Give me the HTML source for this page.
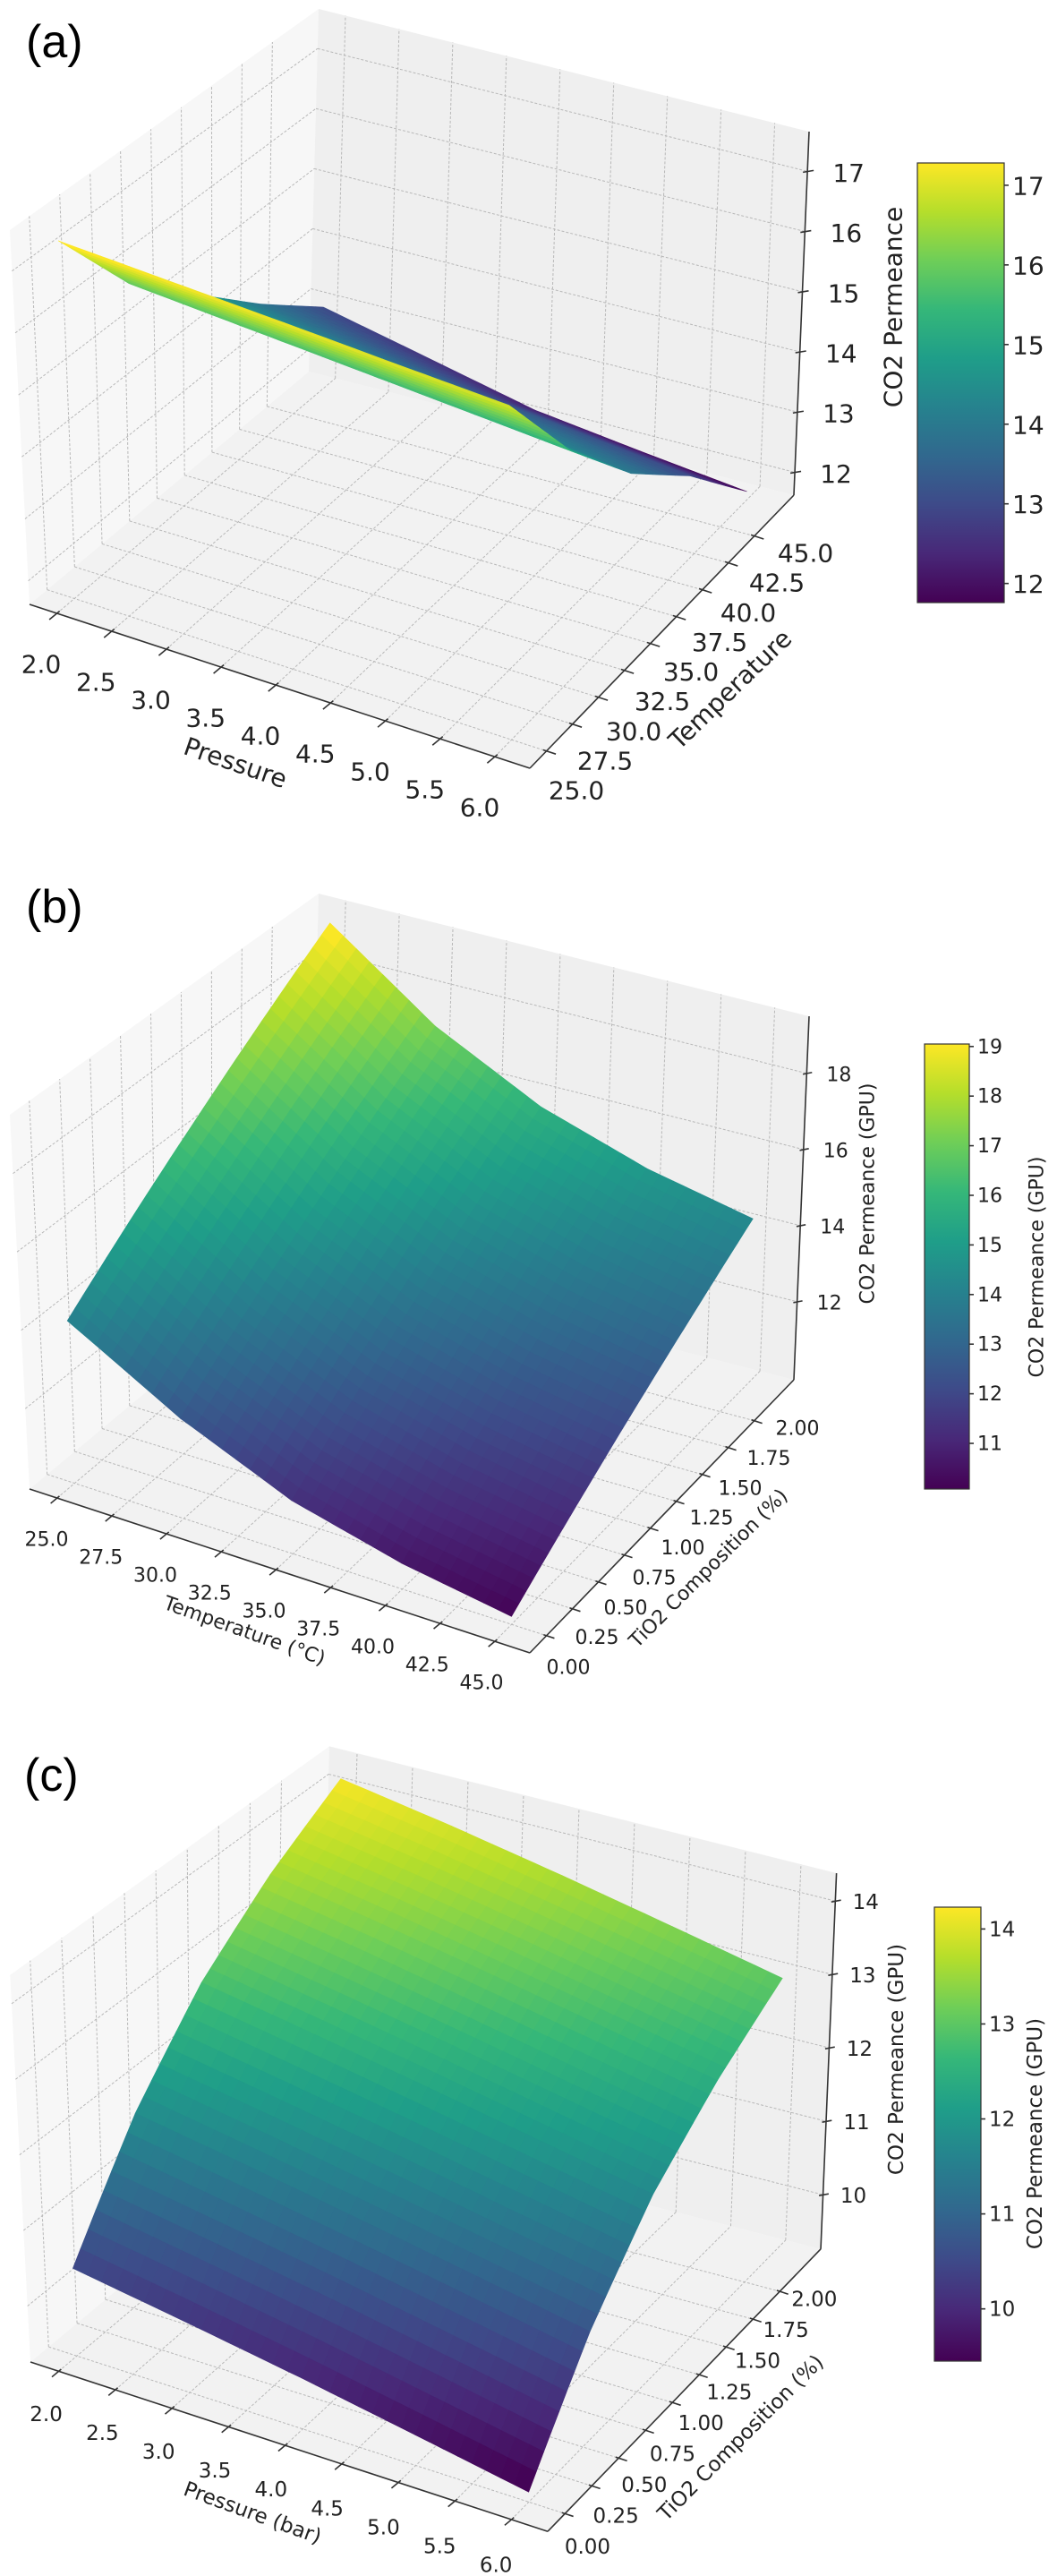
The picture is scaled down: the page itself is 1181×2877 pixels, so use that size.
<!DOCTYPE html>
<html><head><meta charset="utf-8"><title>CO2 Permeance 3D surfaces</title>
<style>html,body{margin:0;padding:0;background:#fff}svg{display:block}</style></head>
<body>
<svg id="fig" xmlns="http://www.w3.org/2000/svg" width="1181" height="2877" viewBox="0 0 1181 2877" font-family="DejaVu Sans, Liberation Sans, sans-serif">
<defs>
<linearGradient id="vir" x1="0" y1="1" x2="0" y2="0">
<stop offset="0" stop-color="#440154"/><stop offset="0.111" stop-color="#482878"/><stop offset="0.222" stop-color="#3e4a89"/><stop offset="0.333" stop-color="#31688e"/><stop offset="0.444" stop-color="#26828e"/><stop offset="0.556" stop-color="#1f9e89"/><stop offset="0.667" stop-color="#35b779"/><stop offset="0.778" stop-color="#6ece58"/><stop offset="0.889" stop-color="#b5de2b"/><stop offset="1" stop-color="#fde725"/>
</linearGradient>
</defs>
<text x="29" y="64" font-family="Liberation Sans, sans-serif" font-size="52">(a)</text>
<text x="29" y="1030" font-family="Liberation Sans, sans-serif" font-size="52">(b)</text>
<text x="27" y="2000" font-family="Liberation Sans, sans-serif" font-size="52">(c)</text>
</svg>
<script>
// ---------- data (estimated) ----------
const pressureA = [2, 3, 4, 5, 6];
const temperatureA = [25, 30, 35, 40, 45];
const permeanceA = [
  [17.40, 17.29, 17.18, 17.06, 16.95],
  [15.90, 15.75, 15.60, 15.45, 15.30],
  [14.90, 14.72, 14.50, 14.25, 14.00],
  [13.90, 13.65, 13.40, 13.20, 13.00],
  [13.00, 12.60, 12.20, 11.97, 11.76]
];
const temperatureB = [25, 30, 35, 40, 45];
const tio2B = [0, 0.5, 1, 1.5, 2];
const permeanceB = [
  [14.10, 12.50, 11.30, 10.60, 10.15],
  [15.38, 13.68, 12.43, 11.68, 11.19],
  [16.65, 14.85, 13.55, 12.75, 12.23],
  [17.93, 16.03, 14.68, 13.83, 13.26],
  [19.20, 17.20, 15.80, 14.90, 14.30]
];
const pressureC = [2, 3, 4, 5, 6];
const tio2C = [0, 0.5, 1, 1.5, 2];
const permeanceC = [
  [10.42, 10.18, 9.93, 9.66, 9.39],
  [11.78, 11.52, 11.25, 10.97, 10.69],
  [12.83, 12.56, 12.28, 11.99, 11.71],
  [13.59, 13.32, 13.03, 12.73, 12.43],
  [14.19, 13.93, 13.64, 13.33, 13.01]
];
const xTicksA = [2.0, 2.5, 3.0, 3.5, 4.0, 4.5, 5.0, 5.5, 6.0];
const yTicksA = [25.0, 27.5, 30.0, 32.5, 35.0, 37.5, 40.0, 42.5, 45.0];
const zTicksA = [12, 13, 14, 15, 16, 17];
const cbTicksA = [12, 13, 14, 15, 16, 17];
const xTicksB = [25.0, 27.5, 30.0, 32.5, 35.0, 37.5, 40.0, 42.5, 45.0];
const yTicksB = [0, 0.25, 0.5, 0.75, 1.0, 1.25, 1.5, 1.75, 2.0];
const zTicksB = [12, 14, 16, 18];
const cbTicksB = [11, 12, 13, 14, 15, 16, 17, 18, 19];
const xTicksC = [2.0, 2.5, 3.0, 3.5, 4.0, 4.5, 5.0, 5.5, 6.0];
const yTicksC = [0, 0.25, 0.5, 0.75, 1.0, 1.25, 1.5, 1.75, 2.0];
const zTicksC = [10, 11, 12, 13, 14];
const cbTicksC = [10, 11, 12, 13, 14];

// ---------- geometry ----------
const NS = 'http://www.w3.org/2000/svg';
const svg = document.getElementById('fig');
const BOT = [[33,675],[592,858],[887,553],[345,415]];
const TOP = [[11,257],[589,433],[904,147],[356,10]];
const VIR = [[68,1,84],[72,40,120],[62,74,137],[49,104,142],[38,130,142],[31,158,137],[53,183,121],[110,206,88],[181,222,43],[253,231,37]];
function vir(t){t=Math.max(0,Math.min(1,t));const s=t*9,i=Math.min(8,Math.floor(s)),f=s-i;const a=VIR[i],b=VIR[i+1];
 return 'rgb('+Math.round(a[0]+(b[0]-a[0])*f)+','+Math.round(a[1]+(b[1]-a[1])*f)+','+Math.round(a[2]+(b[2]-a[2])*f)+')';}
function bil(c,u,v){return [c[0][0]*(1-u)*(1-v)+c[1][0]*u*(1-v)+c[2][0]*u*v+c[3][0]*(1-u)*v,
 c[0][1]*(1-u)*(1-v)+c[1][1]*u*(1-v)+c[2][1]*u*v+c[3][1]*(1-u)*v];}
function projA(u,v,w){const b=bil(BOT,u,v),t=bil(TOP,u,v);return [b[0]+(t[0]-b[0])*w,b[1]+(t[1]-b[1])*w];}
function mk(tag,attrs,parent){const e=document.createElementNS(NS,tag);for(const k in attrs)e.setAttribute(k,attrs[k]);(parent||svg).appendChild(e);return e;}
function pts(a){return a.map(p=>p[0].toFixed(1)+','+p[1].toFixed(1)).join(' ');}

function drawPanel(cfg){
 const g=mk('g',{});
 
 
 const T=cfg.tx;
 const P=(u,v,w)=>T(projA(u,v,w));
 const U=x=>(x-cfg.xlim[0])/(cfg.xlim[1]-cfg.xlim[0]);
 const V=y=>(y-cfg.ylim[0])/(cfg.ylim[1]-cfg.ylim[0]);
 const VS=y=>(y-cfg.sylim[0])/(cfg.sylim[1]-cfg.sylim[0]);
 const Wz=z=>(z-cfg.zlim[0])/(cfg.zlim[1]-cfg.zlim[0]);
 const floor=mk('polygon',{points:pts([P(0,0,0),P(1,0,0),P(1,1,0),P(0,1,0)]),fill:'#f2f2f2'},g);
 
 
 const left=mk('polygon',{points:pts([P(0,0,0),P(0,1,0),P(0,1,1),P(0,0,1)]),fill:'#f7f7f7'},g);
 
 
 const back=mk('polygon',{points:pts([P(0,1,0),P(1,1,0),P(1,1,1),P(0,1,1)]),fill:'#efefef'},g);
 
 
 const gst={stroke:'#b8b8b8','stroke-width':1,'stroke-dasharray':'3,2',fill:'none'};
 function gl(a,b,name){const l=mk('line',Object.assign({x1:a[0],y1:a[1],x2:b[0],y2:b[1]},gst),g);
  
  }
 cfg.xTicks.forEach(x=>{const u=U(x);gl(P(u,0,0),P(u,1,0),'floor-grid-x');gl(P(u,1,0),P(u,1,1),'back-grid-x');});
 cfg.yTicks.forEach(y=>{const v=V(y);gl(P(0,v,0),P(1,v,0),'floor-grid-y');gl(P(0,v,0),P(0,v,1),'left-grid-y');});
 cfg.zTicks.forEach(z=>{const w=Wz(z);gl(P(0,0,w),P(0,1,w),'left-grid-z');gl(P(0,1,w),P(1,1,w),'back-grid-z');});
 const ast={stroke:'#333','stroke-width':1.6,fill:'none'};
 function al(a,b,name){const l=mk('line',Object.assign({x1:a[0],y1:a[1],x2:b[0],y2:b[1]},ast),g);
  
  }
 al(P(0,0,0),P(1,0,0),'x-axis-line');
 al(P(1,0,0),P(1,1,0),'y-axis-line');
 al(P(1,1,0),P(1,1,1),'z-axis-line');
 const s=cfg.s;
 const xl0=T(cfg.xLab[0]),xl1=T(cfg.xLab[1]);
 cfg.xTicks.forEach((x,i)=>{const p=P(U(x),0,0);const d=[-0.77,0.64];
  al([p[0]-d[0]*4*s,p[1]-d[1]*4*s],[p[0]+d[0]*11*s,p[1]+d[1]*11*s],'x-tick');
  const f=i/(cfg.xTicks.length-1);
  const t=mk('text',{x:xl0[0]+(xl1[0]-xl0[0])*f,y:xl0[1]+(xl1[1]-xl0[1])*f,'font-size':cfg.fs,'text-anchor':'middle','dominant-baseline':'central',fill:'#222'},g);
  
  
  t.textContent=x.toFixed(cfg.xDec);});
 const yl0=T(cfg.yLab[0]),yl1=T(cfg.yLab[1]);
 cfg.yTicks.forEach((y,i)=>{const p=P(1,V(y),0);const d=[0.95,0.31];
  al([p[0]-d[0]*4*s,p[1]-d[1]*4*s],[p[0]+d[0]*11*s,p[1]+d[1]*11*s],'y-tick');
  const f=i/(cfg.yTicks.length-1);
  const t=mk('text',{x:yl0[0]+(yl1[0]-yl0[0])*f,y:yl0[1]+(yl1[1]-yl0[1])*f,'font-size':cfg.fs,'text-anchor':'middle','dominant-baseline':'central',fill:'#222'},g);
  
  
  t.textContent=y.toFixed(cfg.yDec);});
 cfg.zTicks.forEach(z=>{const p=P(1,1,Wz(z));
  al([p[0]-5*s,p[1]+1],[p[0]+7*s,p[1]-1],'z-tick');
  const t=mk('text',{x:p[0]+cfg.zdx,y:p[1]+2,'font-size':cfg.fs,'text-anchor':'middle','dominant-baseline':'central',fill:'#222'},g);
  
  
  t.textContent=String(z);});
 const X=cfg.xs,Y=cfg.ys,Z=cfg.zs,K=8,polys=[];
 const nz=z=>(z-cfg.cb[0])/(cfg.cb[1]-cfg.cb[0]);
 for(let j=0;j<Y.length-1;j++)for(let i=0;i<X.length-1;i++){
  for(let a=0;a<K;a++)for(let b=0;b<K;b++){
   const corner=(aa,bb)=>{const fu=bb/K,fv=aa/K;
    const z=Z[j][i]*(1-fu)*(1-fv)+Z[j][i+1]*fu*(1-fv)+Z[j+1][i+1]*fu*fv+Z[j+1][i]*(1-fu)*fv;
    const x=X[i]+(X[i+1]-X[i])*fu,y=Y[j]+(Y[j+1]-Y[j])*fv;
    return {u:U(x),v:VS(y),w:Wz(z),z:z};};
   const c=[corner(a,b),corner(a,b+1),corner(a+1,b+1),corner(a+1,b)];
   let du=0,dv=0,dw=0,zz=0;c.forEach(q=>{du+=q.u/4;dv+=q.v/4;dw+=q.w/4;zz+=q.z/4;});
   polys.push({d:0.61*du-0.61*dv+0.5*dw,p:c.map(q=>P(q.u,q.v,q.w)),col:vir(nz(zz))});
  }}
 polys.sort((A,B)=>A.d-B.d);
 polys.forEach(q=>{const e=mk('polygon',{points:pts(q.p),fill:q.col,stroke:q.col,'stroke-width':0.6},g);
  
  });
 cfg.titles.forEach(tt=>{const t=mk('text',{x:tt[1],y:tt[2],'font-size':cfg.fs,'text-anchor':'middle','dominant-baseline':'central',fill:'#222',transform:'rotate('+tt[3]+' '+tt[1]+' '+tt[2]+')'},g);
  
  
  t.textContent=tt[0];});
 const cb=cfg.cbBox;
 const r=mk('rect',{x:cb[0],y:cb[1],width:cb[2]-cb[0],height:cb[3]-cb[1],fill:'url(#vir)',stroke:'#333','stroke-width':1.2},g);
 
 
 const cy=z=>cb[3]-(z-cfg.cb[0])/(cfg.cb[1]-cfg.cb[0])*(cb[3]-cb[1]);
 cfg.cbTicks.forEach(z=>{const y=cy(z);
  al([cb[2],y],[cb[2]+5,y],'colorbar-tick');
  const t=mk('text',{x:cb[2]+9,y:y+1,'font-size':cfg.fs,'dominant-baseline':'central',fill:'#222'},g);
  
  
  t.textContent=String(z);});
}

drawPanel({name:'panel-a',tx:p=>p,s:1,fs:28,xDec:1,yDec:1,zdx:46,
 xlim:[1.75,6.32],ylim:[23.4,48.8],sylim:[23.58,46.13],zlim:[11.62,17.66],cb:[11.76,17.28],
 xs:pressureA,ys:temperatureA,zs:permeanceA,xTicks:xTicksA,yTicks:yTicksA,zTicks:zTicksA,cbTicks:cbTicksA,
 xLab:[[46,742],[536,902]],yLab:[[644,883],[900,618]],cbBox:[1025,182,1122,673],
 titles:[['Pressure',263,852,19,'x-axis-title'],['Temperature',816,770,-44,'y-axis-title'],['CO2 Permeance',998,343,-90,'z-axis-title']]});
drawPanel({name:'panel-b',tx:p=>[p[0],p[1]+988],s:0.85,fs:22,xDec:1,yDec:2,zdx:36,
 xlim:[23.74,46.6],ylim:[-0.16,2.381],sylim:[-0.142,2.113],zlim:[9.95,19.5],cb:[10.08,19.05],
 xs:temperatureB,ys:tio2B,zs:permeanceB,xTicks:xTicksB,yTicks:yTicksB,zTicks:zTicksB,cbTicks:cbTicksB,
 xLab:[[52,732],[538,892]],yLab:[[635,875],[891,608]],cbBox:[1033,1166,1083,1663],
 titles:[['Temperature (°C)',273,1822,19.6,'x-axis-title'],['TiO2 Composition (%)',792,1752,-45,'y-axis-title'],['CO2 Permeance (GPU)',970,1333,-90,'z-axis-title'],['CO2 Permeance (GPU)',1159,1415,-90,'colorbar-title']]});
drawPanel({name:'panel-c',tx:p=>[34+1.034*(p[0]-33),2638+1.034*(p[1]-675)],s:0.9,fs:23,xDec:1,yDec:2,zdx:34,
 xlim:[1.75,6.32],ylim:[-0.16,2.381],sylim:[-0.142,2.113],zlim:[9.26,14.38],cb:[9.45,14.23],
 xs:pressureC,ys:tio2C,zs:permeanceC,xTicks:xTicksC,yTicks:yTicksC,zTicks:zTicksC,cbTicks:cbTicksC,
 xLab:[[50,732],[536,895]],yLab:[[635,875],[880,608]],cbBox:[1044,2130,1096,2637],
 titles:[['Pressure (bar)',282,2807,20,'x-axis-title'],['TiO2 Composition (%)',828,2723,-45,'y-axis-title'],['CO2 Permeance (GPU)',1002,2300,-90,'z-axis-title'],['CO2 Permeance (GPU)',1157,2383,-90,'colorbar-title']]});
</script>
</body></html>
